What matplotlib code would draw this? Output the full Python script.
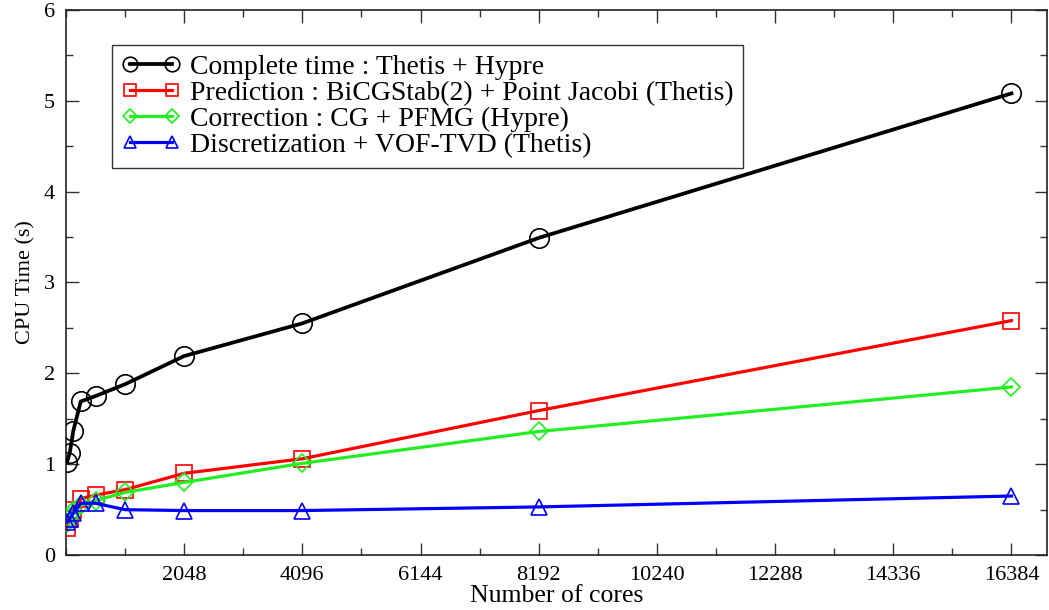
import matplotlib
matplotlib.use("Agg")
import matplotlib.pyplot as plt
from matplotlib.ticker import MultipleLocator

plt.rcParams['font.family'] = ['Liberation Serif', 'DejaVu Serif']

# Number of cores used in each run
cores = [16, 64, 128, 256, 512, 1024, 2048, 4096, 8192, 16384]

# CPU time per component (s)
complete_time = [1.02, 1.12, 1.37, 1.69, 1.75, 1.88, 2.19, 2.55, 3.49, 5.08]
prediction = [0.30, 0.40, 0.50, 0.62, 0.66, 0.72, 0.90, 1.06, 1.59, 2.58]
correction = [0.35, 0.42, 0.48, 0.55, 0.60, 0.69, 0.80, 1.01, 1.36, 1.85]
discretization = [0.36, 0.40, 0.46, 0.57, 0.57, 0.50, 0.49, 0.49, 0.53, 0.65]

labels = [
    "Complete time : Thetis + Hypre",
    "Prediction : BiCGStab(2) + Point Jacobi (Thetis)",
    "Correction : CG + PFMG (Hypre)",
    "Discretization + VOF-TVD (Thetis)",
]
xtick_values = [2048, 4096, 6144, 8192, 10240, 12288, 14336, 16384]

fig = plt.figure(figsize=(10.49, 6.10), dpi=100)
ax = fig.add_axes([0.0629, 0.090, 0.9352, 0.894])

series = [
    (complete_time, "#000000", "o", 14, 2.7),
    (prediction, "#ff0000", "s", 11.5, 2.3),
    (correction, "#22ee22", "D", 9.5, 2.3),
    (discretization, "#0000ff", "^", 12, 2.3),
]
for (vals, col, mk, ms, lw), lab in zip(series, labels):
    ax.plot(cores, vals, color=col, lw=lw, marker=mk, ms=ms,
            mfc="none", mec=col, mew=1.2, label=lab, zorder=3)

ax.set_xlim(0, 17000)
ax.set_ylim(0, 6)
ax.set_xticks(xtick_values)
ax.set_xticklabels([str(v) for v in xtick_values])
ax.xaxis.set_minor_locator(MultipleLocator(1024))
ax.yaxis.set_major_locator(MultipleLocator(1))
ax.yaxis.set_minor_locator(MultipleLocator(0.5))
ax.tick_params(which="both", direction="in", top=True, right=True,
               labelsize=16, width=1.0, color="#333333")
ax.tick_params(which="major", length=9, pad=8)
ax.tick_params(which="minor", length=5)
for sp in ax.spines.values():
    sp.set_linewidth(1.2)
    sp.set_color("#222222")

ax.set_xlabel("Number of cores", fontsize=18.5, labelpad=0)
ax.set_ylabel("CPU Time (s)", fontsize=16, labelpad=6)

leg = ax.legend(loc="upper left", bbox_to_anchor=(0.0469, 0.936),
                borderaxespad=0, fontsize=20, numpoints=2,
                frameon=True, fancybox=False, framealpha=1, edgecolor="#333333",
                handlelength=2.1, handletextpad=0.35, labelspacing=0.02,
                borderpad=0.35, markerscale=0.75)
leg.get_frame().set_linewidth(1.0)

fig.savefig("out.png", dpi=100)
